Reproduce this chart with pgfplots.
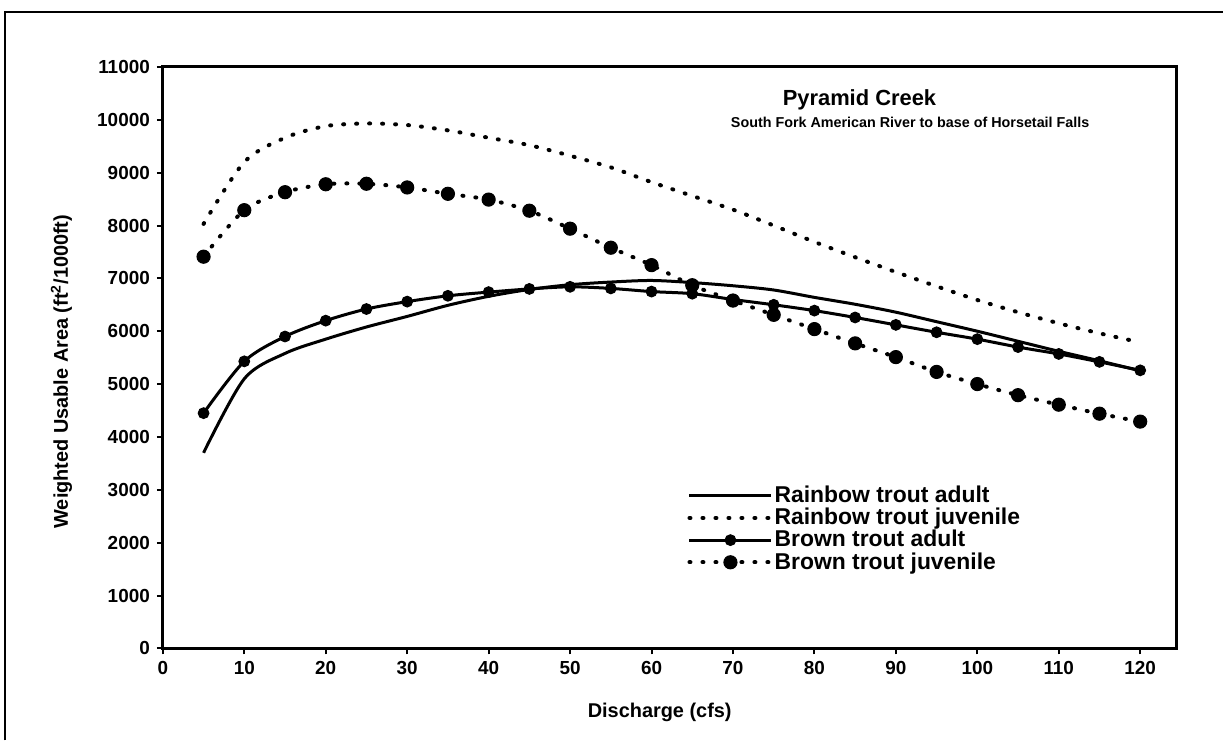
\documentclass[border=0pt]{standalone}
\usepackage{fontspec}
\setmainfont{Liberation Sans}
\usepackage{pgfplots}
\pgfplotsset{compat=1.18}

\begin{document}
\begin{tikzpicture}
\path (0,0) rectangle (612bp,370.5bp);
\draw[line width=1.2bp] (2.5bp,0) -- (2.5bp,364.5bp) -- (612bp,364.5bp);
\begin{axis}[
    at={(81.5bp,46bp)}, anchor=south west,
    scale only axis, width=507.5bp, height=291bp,
    xmin=0, xmax=124.5, ymin=0, ymax=11000,
    xtick={0,10,...,120}, ytick={0,1000,...,11000},
    axis line style={line width=1.5bp},
    tick align=outside, tick pos=left, major tick length=3bp,
    tick style={line width=1bp, black},
    /pgf/number format/assume math mode=true,
    /pgf/number format/1000 sep={},
    scaled ticks=false,
    ticklabel style={font=\bfseries\fontsize{9.5}{10}\selectfont},
    xlabel={Discharge (cfs)},
    ylabel={Weighted Usable Area (ft\textsuperscript{2}/1000ft)},
    label style={font=\bfseries\fontsize{10}{11}\selectfont},
    xlabel style={at={(axis description cs:0.49,-0.11)}, anchor=center},
    ylabel style={at={(axis description cs:-0.1,0.476)}, anchor=center},
    legend cell align=left,
    legend image code/.code={
        \draw[mark repeat=2, mark phase=2, #1] plot coordinates {(0bp,0bp) (20.5bp,0bp) (41bp,0bp)};
    },
    legend style={draw=none, fill=none, at={(rel axis cs:0.517,0.282)}, anchor=north west,
        inner sep=0pt, row sep=0.1bp,
        font=\bfseries\fontsize{11.5}{11.5}\selectfont,
        nodes={inner sep=0.6bp}},
]
% Rainbow trout adult
\addplot[black, line width=1.5bp, smooth] coordinates {
    (5,3700)(10,5100)(15,5580)(20,5850)(25,6080)(30,6280)(35,6490)(40,6660)
    (45,6790)(50,6880)(55,6930)(60,6960)(65,6920)(70,6860)(75,6780)(80,6640)
    (85,6510)(90,6360)(95,6180)(100,6000)(105,5810)(110,5620)(115,5440)(120,5250)
};
\addlegendentry{Rainbow trout adult}
% Rainbow trout juvenile
\addplot[black, line width=2bp, smooth, line cap=round, dash pattern=on 0.5bp off 6bp] coordinates {
    (5,8030)(10,9200)(15,9660)(20,9880)(25,9930)(30,9900)(35,9800)(40,9660)
    (45,9520)(50,9320)(55,9100)(60,8820)(65,8560)(70,8300)(75,8000)(80,7690)
    (85,7400)(90,7120)(95,6850)(100,6590)(105,6360)(110,6150)(115,5960)(120,5790)
};
\addlegendentry{Rainbow trout juvenile}
% Brown trout adult
\addplot[black, line width=1.5bp, smooth, mark=*, mark size=2.7bp,
    mark options={solid, line width=0.5bp}] coordinates {
    (5,4450)(10,5430)(15,5900)(20,6200)(25,6420)(30,6560)(35,6670)(40,6740)
    (45,6800)(50,6840)(55,6810)(60,6750)(65,6710)(70,6600)(75,6500)(80,6390)
    (85,6260)(90,6120)(95,5980)(100,5850)(105,5700)(110,5570)(115,5420)(120,5260)
};
\addlegendentry{Brown trout adult}
% Brown trout juvenile
\addplot[black, line width=2bp, smooth, line cap=round, dash pattern=on 0.5bp off 6bp,
    mark=*, mark size=3.3bp, mark options={solid, line width=0.5bp}] coordinates {
    (5,7410)(10,8290)(15,8630)(20,8780)(25,8790)(30,8720)(35,8600)(40,8490)
    (45,8280)(50,7940)(55,7580)(60,7250)(65,6870)(70,6580)(75,6310)(80,6040)
    (85,5770)(90,5510)(95,5230)(100,5000)(105,4790)(110,4610)(115,4440)(120,4290)
};
\addlegendentry{Brown trout juvenile}
\node[font=\bfseries\fontsize{11}{12}\selectfont] at (rel axis cs:0.687,0.943) {Pyramid Creek};
\node[font=\bfseries\fontsize{7.2}{8}\selectfont] at (rel axis cs:0.737,0.905) {South Fork American River to base of Horsetail Falls};
\end{axis}
\end{tikzpicture}
\end{document}
